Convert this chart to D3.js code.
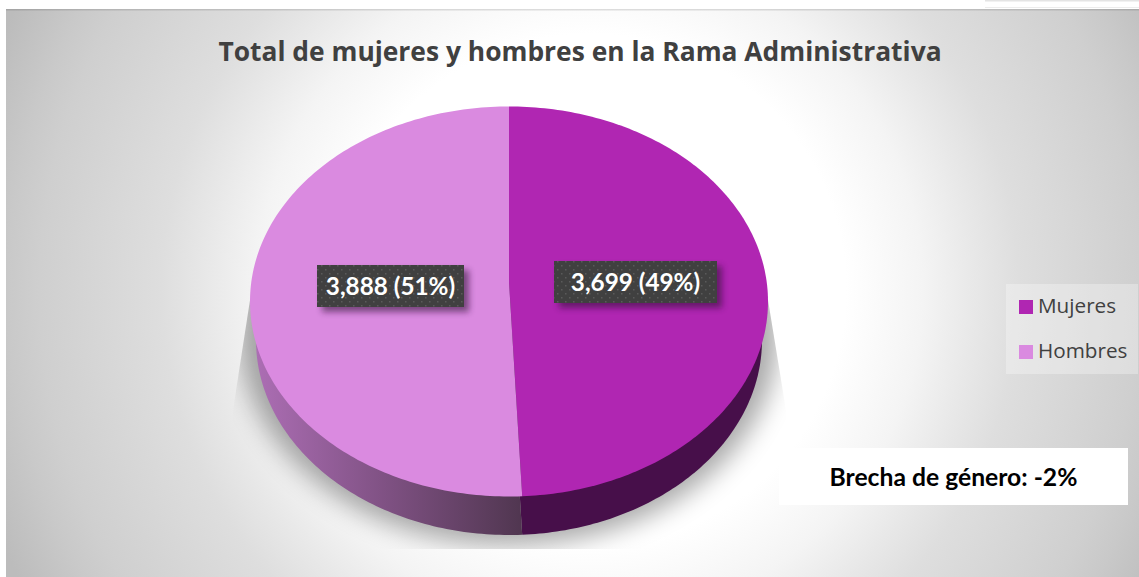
<!DOCTYPE html>
<html>
<head>
<meta charset="utf-8">
<script src="https://cdn.jsdelivr.net/npm/d3@7"></script>
<style>
  html, body { margin: 0; padding: 0; background: #fff; overflow: hidden; }
  text { font-family: "Open Sans", sans-serif; }
  text.calibri { font-family: Lato, sans-serif; }
</style>
</head>
<body>
<script>
const categories = ["Mujeres", "Hombres"];
const values = [3699, 3888];
const percents = ["49%", "51%"];
const colors = ["#b026b2", "#da8ae0"];
const chartTitle = "Total de mujeres y hombres en la Rama Administrativa";
const gapNote = "Brecha de género: -2%";

const w = 1139;
const h = 577;

const svg = d3.select("body").append("svg")
  .attr("width", w)
  .attr("height", h)
  .style("display", "block");

const defs = svg.append("defs");

// panel background, light in the middle and grey at the corners
const bg = defs.append("radialGradient")
  .attr("id", "panelBg")
  .attr("gradientUnits", "userSpaceOnUse")
  .attr("cx", 590).attr("cy", 290).attr("r", 640);
[[0, "#ffffff"], [0.4, "#ffffff"], [0.52, "#f4f4f4"], [0.6, "#e8e8e8"], [0.67, "#dedede"],
 [0.72, "#dadada"], [0.86, "#cfcfcf"], [0.91, "#c9c9c9"], [1, "#bcbcbc"]].forEach(s => {
  bg.append("stop").attr("offset", s[0]).attr("stop-color", s[1]);
});

// side of the light slice
const sideGrad = defs.append("linearGradient")
  .attr("id", "sideLight")
  .attr("gradientUnits", "userSpaceOnUse")
  .attr("x1", 250).attr("x2", 522).attr("y1", 0).attr("y2", 0);
sideGrad.append("stop").attr("offset", 0).attr("stop-color", "#ae6fb6");
sideGrad.append("stop").attr("offset", 0.5).attr("stop-color", "#7f5183");
sideGrad.append("stop").attr("offset", 1).attr("stop-color", "#503650");

defs.append("filter").attr("id", "soft")
  .attr("x", "-20%").attr("y", "-20%").attr("width", "140%").attr("height", "140%")
  .append("feGaussianBlur").attr("stdDeviation", 13);

const labelShadow = defs.append("filter").attr("id", "labelShadow")
  .attr("x", "-20%").attr("y", "-40%").attr("width", "140%").attr("height", "180%");
labelShadow.append("feGaussianBlur").attr("stdDeviation", 3);

const dots = defs.append("pattern").attr("id", "dots")
  .attr("patternUnits", "userSpaceOnUse")
  .attr("width", 8).attr("height", 8);
dots.append("rect").attr("width", 8).attr("height", 8).attr("fill", "#404040");
dots.append("rect").attr("x", 1).attr("y", 1).attr("width", 1.5).attr("height", 1.5).attr("fill", "#5a5a5a");
dots.append("rect").attr("x", 5).attr("y", 5).attr("width", 1.5).attr("height", 1.5).attr("fill", "#5a5a5a");

defs.append("clipPath").attr("id", "shadowClip")
  .append("path")
  .attr("d", "M250,300 L233,410 L233,549 L786,549 L786,410 L768,300 Z");

// strip above the panel
svg.append("rect").attr("x", 985).attr("y", 0).attr("width", 154).attr("height", 1.5).attr("fill", "#e4e4e4");
svg.append("rect").attr("x", 985).attr("y", 7).attr("width", 154).attr("height", 1).attr("fill", "#ececec");

svg.append("rect")
  .attr("x", 6).attr("y", 9)
  .attr("width", w - 6).attr("height", h - 9)
  .attr("fill", "url(#panelBg)");
svg.append("rect")
  .attr("x", 6).attr("y", 9)
  .attr("width", w - 6).attr("height", 1.5)
  .attr("fill", "#000").attr("opacity", 0.12);

svg.append("text")
  .attr("x", 580).attr("y", 61)
  .attr("text-anchor", "middle")
  .attr("font-size", 26.4)
  .attr("font-weight", 700)
  .attr("fill", "#404040")
  .text(chartTitle);

// the pie: top face and a lower, slightly narrower ellipse for the side
const topFace = { cx: 509, cy: 301.5, rx: 259, ry: 195, hy: 282 };
const baseFace = { cx: 509, cy: 340, rx: 253, ry: 195, hy: 321 };
const squash = 1.27;

const pie = d3.pie().sort(null).value(d => d);
const slices = pie(values);

// where a slice angle lands on the rim, looking from the off-centre hub
function rimParam(e, a) {
  const dx = Math.sin(a);
  const dy = -Math.cos(a) * squash;
  const oy = e.hy - e.cy;
  const A = dx * dx / (e.rx * e.rx) + dy * dy / (e.ry * e.ry);
  const B = 2 * oy * dy / (e.ry * e.ry);
  const C = oy * oy / (e.ry * e.ry) - 1;
  const r = (-B + Math.sqrt(B * B - 4 * A * C)) / (2 * A);
  let t = Math.atan2(r * dx / e.rx, -(oy + r * dy) / e.ry);
  if (t < 0 || (a > Math.PI && t < 1e-6)) t += 2 * Math.PI;
  return t;
}

const lineGen = d3.line().x(d => d[0]).y(d => d[1]);

function wedge(e, s) {
  const t0 = rimParam(e, s.startAngle);
  const t1 = rimParam(e, s.endAngle);
  const pts = [[e.cx, e.hy]];
  d3.range(0, 181).forEach(i => {
    const t = t0 + (t1 - t0) * i / 180;
    pts.push([e.cx + e.rx * Math.sin(t), e.cy - e.ry * Math.cos(t)]);
  });
  return lineGen(pts) + "Z";
}

// shadow under the pie
svg.append("g").attr("clip-path", "url(#shadowClip)")
  .append("ellipse")
  .attr("cx", baseFace.cx).attr("cy", baseFace.cy - 6)
  .attr("rx", baseFace.rx + 16).attr("ry", baseFace.ry + 16)
  .attr("fill", "#000").attr("opacity", 0.34)
  .attr("filter", "url(#soft)");

const sideFills = ["#470f4a", "url(#sideLight)"];
svg.append("g").selectAll("path")
  .data(slices)
  .join("path")
  .attr("d", d => wedge(baseFace, d))
  .attr("fill", (d, i) => sideFills[i]);

svg.append("g").selectAll("path")
  .data(slices)
  .join("path")
  .attr("d", d => wedge(topFace, d))
  .attr("fill", (d, i) => colors[i]);

// data labels
const fmt = d3.format(",");
const labelBoxes = [
  { x: 554, y: 261, width: 163, height: 42 },
  { x: 317, y: 265, width: 147, height: 42 }
];

const labels = svg.append("g").selectAll("g")
  .data(slices)
  .join("g");
labels.append("rect")
  .attr("x", (d, i) => labelBoxes[i].x + 5)
  .attr("y", (d, i) => labelBoxes[i].y + 5)
  .attr("width", (d, i) => labelBoxes[i].width)
  .attr("height", (d, i) => labelBoxes[i].height)
  .attr("fill", "#2a1030").attr("opacity", 0.55)
  .attr("filter", "url(#labelShadow)");
labels.append("rect")
  .attr("x", (d, i) => labelBoxes[i].x)
  .attr("y", (d, i) => labelBoxes[i].y)
  .attr("width", (d, i) => labelBoxes[i].width)
  .attr("height", (d, i) => labelBoxes[i].height)
  .attr("fill", "url(#dots)");
labels.append("text")
  .attr("class", "calibri")
  .attr("x", (d, i) => labelBoxes[i].x + labelBoxes[i].width / 2)
  .attr("y", (d, i) => labelBoxes[i].y + 30)
  .attr("text-anchor", "middle")
  .attr("font-size", 24.3)
  .attr("font-weight", 700)
  .attr("fill", "#fff")
  .text((d, i) => fmt(values[i]) + " (" + percents[i] + ")");

// legend
svg.append("rect")
  .attr("x", 1006).attr("y", 284)
  .attr("width", 132).attr("height", 90)
  .attr("fill", "#fff").attr("opacity", 0.3);
const legend = svg.append("g").selectAll("g")
  .data(categories)
  .join("g")
  .attr("transform", (d, i) => "translate(1019," + (300 + i * 45) + ")");
legend.append("rect")
  .attr("width", 14).attr("height", 14)
  .attr("fill", (d, i) => colors[i]);
legend.append("text")
  .attr("x", 19).attr("y", 13)
  .attr("font-size", 20.7)
  .attr("fill", "#404040")
  .text(d => d);

// gap note
svg.append("rect")
  .attr("x", 779).attr("y", 448)
  .attr("width", 349).attr("height", 57)
  .attr("fill", "#fff");
svg.append("text")
  .attr("class", "calibri")
  .attr("x", 953.5).attr("y", 486)
  .attr("text-anchor", "middle")
  .attr("font-size", 24.7)
  .attr("font-weight", 700)
  .attr("fill", "#000")
  .text(gapNote);
</script>
</body>
</html>
